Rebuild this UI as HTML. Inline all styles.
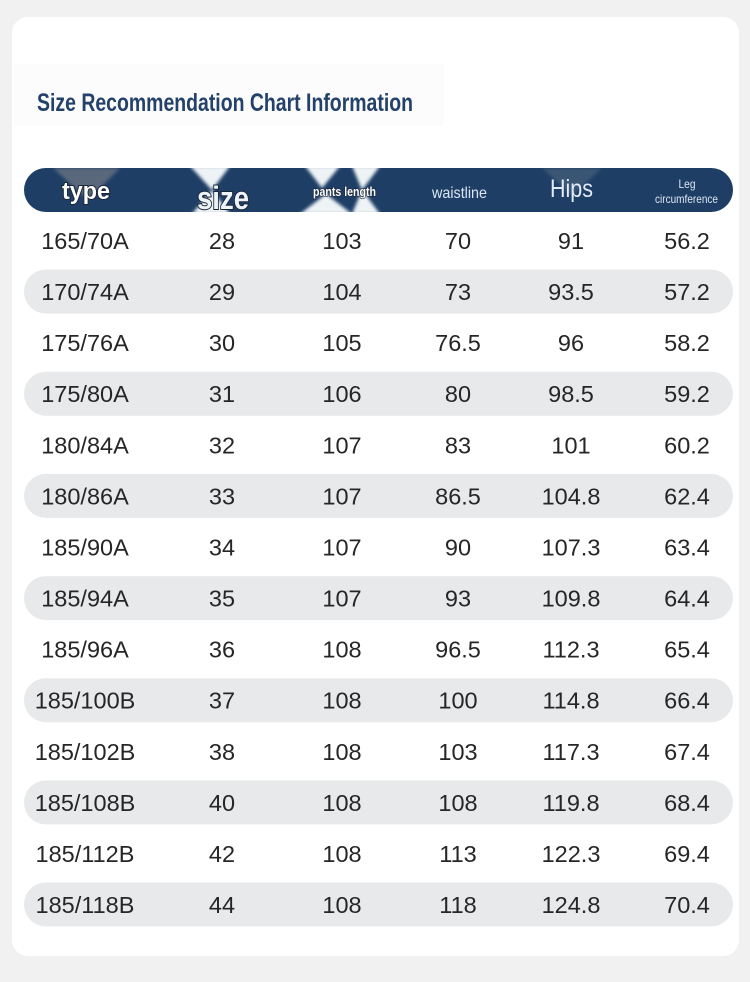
<!DOCTYPE html>
<html>
<head>
<meta charset="utf-8">
<style>
html,body{margin:0;padding:0;background:#f1f1f1;}
body{width:750px;height:982px;overflow:hidden;}
svg{display:block;}
</style>
</head>
<body>
<svg width="750" height="982" viewBox="0 0 750 982" xmlns="http://www.w3.org/2000/svg">
  <defs>
    <filter id="bl" x="-20%" y="-20%" width="140%" height="140%">
      <feGaussianBlur stdDeviation="1.6"/>
    </filter>
    <clipPath id="barclip">
      <rect x="24" y="168" width="709" height="44" rx="22" ry="22"/>
    </clipPath>
  </defs>
  <rect x="0" y="0" width="750" height="982" fill="#f1f1f1"/>
  <!-- card -->
  <rect x="12" y="17" width="727" height="939" rx="16" ry="16" fill="#ffffff"/>
  <!-- faint band behind title -->
  <rect x="14" y="64" width="430" height="62" fill="#fcfcfd"/>

  <!-- title -->
  <text x="37" y="111" font-family="Liberation Sans, sans-serif" font-size="25" font-weight="bold" fill="#24416a" textLength="376" lengthAdjust="spacingAndGlyphs">Size Recommendation Chart Information</text>

  <!-- header bar -->
  <rect x="24" y="168" width="709" height="44" rx="22" ry="22" fill="#1e3e66"/>
  <g clip-path="url(#barclip)">
    <polygon points="53,168 120,168 88,200" fill="#5a687c" filter="url(#bl)"/>
    <polygon points="542,168 602,168 572,196" fill="#3b5474" filter="url(#bl)"/>
    <g fill="#eef3f6" filter="url(#bl)">
      <polygon points="190,166 230,166 212,190"/>
      <polygon points="192,214 230,214 212,190"/>
      <polygon points="305,166 340,166 322,188"/>
      <polygon points="300,214 352,214 326,194"/>
      <polygon points="352,166 380,166 362,190"/>
      <polygon points="352,214 380,214 362,190"/>
    </g>
  </g>

  <!-- header labels -->
  <g font-family="Liberation Sans, sans-serif">
    <text x="62" y="199" font-size="24" font-weight="bold" fill="#ffffff" stroke="#1a2638" stroke-width="2" paint-order="stroke" textLength="48" lengthAdjust="spacingAndGlyphs">type</text>
    <text x="197" y="209" font-size="32" font-weight="bold" fill="#eef3f8" stroke="#1a2638" stroke-width="2" paint-order="stroke" textLength="52" lengthAdjust="spacingAndGlyphs">size</text>
    <text x="313" y="196" font-size="13" font-weight="bold" fill="#ffffff" stroke="#1a2638" stroke-width="1.2" paint-order="stroke" textLength="63" lengthAdjust="spacingAndGlyphs">pants length</text>
    <text x="432" y="198" font-size="16" fill="#dbe6f2" textLength="55" lengthAdjust="spacingAndGlyphs">waistline</text>
    <text x="550" y="197" font-size="25" fill="#e2ecf8" textLength="43" lengthAdjust="spacingAndGlyphs">Hips</text>
    <text x="687" y="188" font-size="12" fill="#dbe6f2" text-anchor="middle" textLength="17" lengthAdjust="spacingAndGlyphs">Leg</text>
    <text x="655" y="203" font-size="12" fill="#dbe6f2" textLength="63" lengthAdjust="spacingAndGlyphs">circumference</text>
  </g>

  <!-- row bands -->
  <g fill="#e7e9eb">
    <rect x="24" y="269.6" width="709" height="44" rx="22" ry="22"/>
    <rect x="24" y="371.7" width="709" height="44" rx="22" ry="22"/>
    <rect x="24" y="473.9" width="709" height="44" rx="22" ry="22"/>
    <rect x="24" y="576.1" width="709" height="44" rx="22" ry="22"/>
    <rect x="24" y="678.2" width="709" height="44" rx="22" ry="22"/>
    <rect x="24" y="780.4" width="709" height="44" rx="22" ry="22"/>
    <rect x="24" y="882.5" width="709" height="44" rx="22" ry="22"/>
  </g>

  <!-- table body -->
  <g font-family="Liberation Sans, sans-serif" font-size="23.5" fill="#262626" text-anchor="middle">
    <g transform="translate(0,249)"><text x="85">165/70A</text><text x="222">28</text><text x="342">103</text><text x="458">70</text><text x="571">91</text><text x="687">56.2</text></g>
    <g transform="translate(0,300.1)"><text x="85">170/74A</text><text x="222">29</text><text x="342">104</text><text x="458">73</text><text x="571">93.5</text><text x="687">57.2</text></g>
    <g transform="translate(0,351.2)"><text x="85">175/76A</text><text x="222">30</text><text x="342">105</text><text x="458">76.5</text><text x="571">96</text><text x="687">58.2</text></g>
    <g transform="translate(0,402.2)"><text x="85">175/80A</text><text x="222">31</text><text x="342">106</text><text x="458">80</text><text x="571">98.5</text><text x="687">59.2</text></g>
    <g transform="translate(0,453.3)"><text x="85">180/84A</text><text x="222">32</text><text x="342">107</text><text x="458">83</text><text x="571">101</text><text x="687">60.2</text></g>
    <g transform="translate(0,504.4)"><text x="85">180/86A</text><text x="222">33</text><text x="342">107</text><text x="458">86.5</text><text x="571">104.8</text><text x="687">62.4</text></g>
    <g transform="translate(0,555.5)"><text x="85">185/90A</text><text x="222">34</text><text x="342">107</text><text x="458">90</text><text x="571">107.3</text><text x="687">63.4</text></g>
    <g transform="translate(0,606.6)"><text x="85">185/94A</text><text x="222">35</text><text x="342">107</text><text x="458">93</text><text x="571">109.8</text><text x="687">64.4</text></g>
    <g transform="translate(0,657.6)"><text x="85">185/96A</text><text x="222">36</text><text x="342">108</text><text x="458">96.5</text><text x="571">112.3</text><text x="687">65.4</text></g>
    <g transform="translate(0,708.7)"><text x="85">185/100B</text><text x="222">37</text><text x="342">108</text><text x="458">100</text><text x="571">114.8</text><text x="687">66.4</text></g>
    <g transform="translate(0,759.8)"><text x="85">185/102B</text><text x="222">38</text><text x="342">108</text><text x="458">103</text><text x="571">117.3</text><text x="687">67.4</text></g>
    <g transform="translate(0,810.9)"><text x="85">185/108B</text><text x="222">40</text><text x="342">108</text><text x="458">108</text><text x="571">119.8</text><text x="687">68.4</text></g>
    <g transform="translate(0,862)"><text x="85">185/112B</text><text x="222">42</text><text x="342">108</text><text x="458">113</text><text x="571">122.3</text><text x="687">69.4</text></g>
    <g transform="translate(0,913)"><text x="85">185/118B</text><text x="222">44</text><text x="342">108</text><text x="458">118</text><text x="571">124.8</text><text x="687">70.4</text></g>
  </g>
</svg>
</body>
</html>
